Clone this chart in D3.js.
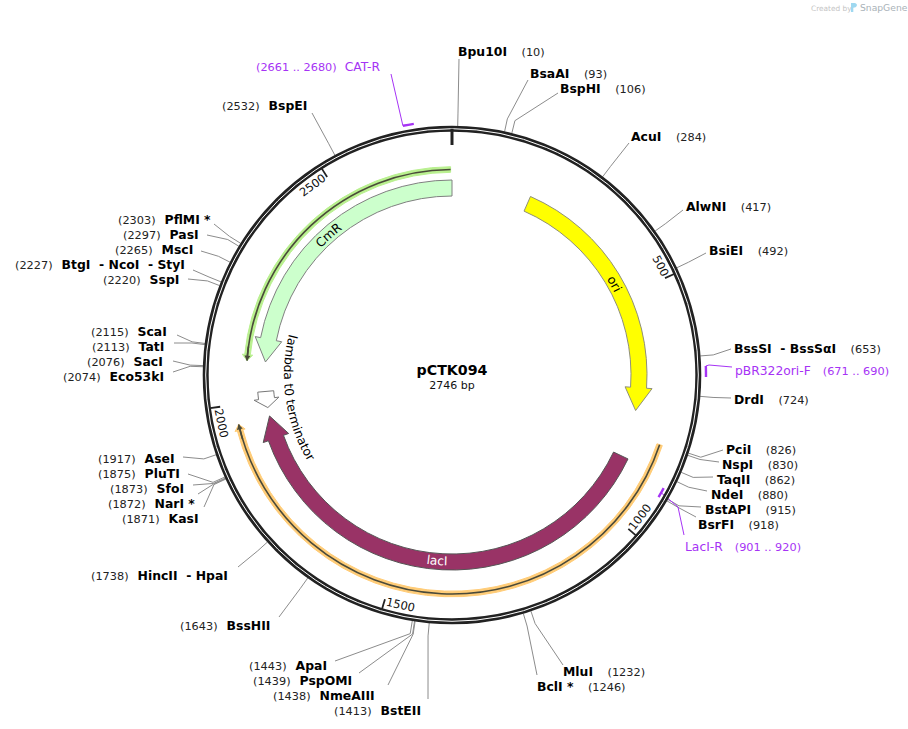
<!DOCTYPE html>
<html>
<head>
<meta charset="utf-8">
<script src="https://d3js.org/d3.v7.min.js"></script>
<style>
  html, body { margin: 0; padding: 0; background: #fff; }
  text { font-family: "DejaVu Sans", sans-serif; white-space: pre; }
</style>
</head>
<body>
<script>
var plasmidName = "pCTK094";
var plasmidLength = 2746;

// restriction sites, going round the map
var siteNames = ["Bpu10I", "BsaAI", "BspHI", "AcuI", "AlwNI", "BsiEI", "BssSI  - BssS\u03b1I", "DrdI",
  "PciI", "NspI", "TaqII", "NdeI", "BstAPI", "BsrFI", "MluI", "BclI *",
  "BstEII", "NmeAIII", "PspOMI", "ApaI", "BssHII", "HincII  - HpaI",
  "KasI", "NarI *", "SfoI", "PluTI", "AseI",
  "Eco53kI", "SacI", "TatI", "ScaI",
  "SspI", "BtgI  - NcoI  - StyI", "MscI", "PasI", "PflMI *", "BspEI"];
var sitePositions = [10, 93, 106, 284, 417, 492, 653, 724,
  826, 830, 862, 880, 915, 918, 1232, 1246,
  1413, 1438, 1439, 1443, 1643, 1738,
  1871, 1872, 1873, 1875, 1917,
  2074, 2076, 2113, 2115,
  2220, 2227, 2265, 2297, 2303, 2532];

// primers
var primerNames = ["pBR322ori-F", "LacI-R", "CAT-R"];
var primerStarts = [671, 901, 2661];
var primerEnds = [690, 920, 2680];

// features, start is the tail of the arrow and end is the tip
var featureNames = ["ori", "CmR", "lacI", "lambda t0 terminator"];
var featureStarts = [181, 2746, 881, 2021];
var featureEnds = [770, 2090, 1963, 1983];

var orfStarts = [2743, 828];
var orfEnds = [2090, 1960];

var tickValues = [500, 1000, 1500, 2000, 2500];

// where the labels went on the page
var siteLabelX = [458, 530, 560, 631, 686, 709, 734, 734,
  726, 722, 717, 711, 705, 698, 563, 537,
  334, 273, 253, 249, 180, 91,
  122, 108, 110, 98, 98,
  63, 87, 92, 91,
  103, 15, 115, 123, 118, 222];
var siteLabelY = [52, 74, 89, 137, 207, 251, 349, 400,
  450, 465, 480, 495, 510, 525, 672, 687,
  711, 696, 681, 666, 626, 576,
  519, 504, 489, 474, 459,
  377, 362, 347, 332,
  280, 265, 250, 235, 220, 106];
var leaderEndX = [459, 528, 558, 629, 683, 706, 731, 731,
  723, 719, 713, 707, 701, 696, 563, 537,
  428, 388, 359, 335, 279, 238,
  204, 198, 193, 188, 183,
  173, 173, 174, 177,
  188, 193, 201, 207, 214, 312];
var leaderEndY = [59, 80, 93, 143, 210, 253, 349, 398,
  450, 462, 477, 491, 507, 517, 665, 675,
  699, 685, 673, 661, 617, 567,
  507, 494, 485, 474, 457,
  372, 361, 343, 335,
  279, 270, 251, 235, 224, 113];

var width = 908, height = 729;
var cx = 452, cy = 375;
var ringR = 246.3;

var svg = d3.select("body").append("svg")
  .attr("width", width)
  .attr("height", height)
  .style("display", "block");

var g = svg.append("g").attr("transform", "translate(" + cx + "," + cy + ")");
var defs = svg.append("defs");

// bp -> angle, clockwise from the top
var angle = d3.scaleLinear().domain([0, plasmidLength]).range([0, 2 * Math.PI]);

function polar(bp, r) {
  return d3.pointRadial(angle(bp), r);
}

// arrow shape along the circle
function arrowPath(startBp, endBp, rIn, rOut, headLen, headOver) {
  var a0 = angle(startBp) - Math.PI / 2;
  var a1 = angle(endBp) - Math.PI / 2;
  var ccw = a1 < a0;
  var rMid = (rIn + rOut) / 2;
  var aHead = a1 + (ccw ? 1 : -1) * headLen / rMid;
  var p = d3.path();
  p.arc(0, 0, rOut, a0, aHead, ccw);
  p.lineTo((rOut + headOver) * Math.cos(aHead), (rOut + headOver) * Math.sin(aHead));
  p.lineTo(rMid * Math.cos(a1), rMid * Math.sin(a1));
  p.lineTo((rIn - headOver) * Math.cos(aHead), (rIn - headOver) * Math.sin(aHead));
  p.lineTo(rIn * Math.cos(aHead), rIn * Math.sin(aHead));
  p.arc(0, 0, rIn, aHead, a0, !ccw);
  p.closePath();
  return p.toString();
}

// thin open reading frame line
function orfPath(startBp, endBp, r) {
  var a0 = angle(startBp) - Math.PI / 2;
  var a1 = angle(endBp) - Math.PI / 2;
  var p = d3.path();
  p.arc(0, 0, r, a0, a1, a1 < a0);
  return p.toString();
}

function arcGuide(id, midBp, span, r, ccw) {
  var a = angle(midBp) - Math.PI / 2;
  var p = d3.path();
  if (ccw) p.arc(0, 0, r, a + span, a - span, true);
  else p.arc(0, 0, r, a - span, a + span, false);
  defs.append("path").attr("id", id).attr("d", p.toString());
}

// orf lines first
var orfColors = ["#b9f08f", "#ffcc77"];
var orfRadius = [205.5, 219];
orfStarts.forEach(function(s, i) {
  var shaftStart = orfEnds[i] + (orfEnds[i] < s ? 30 : -30);
  g.append("path").attr("d", arrowPath(s, orfEnds[i], orfRadius[i] - 2.8, orfRadius[i] + 2.8, 6, 2.4))
    .attr("fill", orfColors[i]).attr("stroke", orfColors[i]).attr("stroke-width", 1);
  g.append("path").attr("d", orfPath(s, orfEnds[i], orfRadius[i]))
    .attr("fill", "none").attr("stroke", "#4a4a3a").attr("stroke-width", 1.6);
  g.append("path").attr("d", arrowPath(shaftStart, orfEnds[i], orfRadius[i] - 0.8, orfRadius[i] + 0.8, 5, 2.2))
    .attr("fill", "#4a4a3a");
});

// feature arrows
var featureFill = ["#ffff00", "#ccffcc", "#993366", "#ffffff"];
var featureStroke = ["#8f8f7a", "#808080", "#555555", "#777777"];
featureStarts.forEach(function(s, i) {
  g.append("path")
    .attr("d", arrowPath(s, featureEnds[i], 179, 195, i == 3 ? 9 : 23, i == 3 ? 4.5 : 5.5))
    .attr("fill", featureFill[i])
    .attr("stroke", featureStroke[i])
    .attr("stroke-width", 1);
});

// feature labels
arcGuide("lab-ori", 463, 0.3, 182, false);
arcGuide("lab-cmr", 2430, 0.3, 182.5, false);
arcGuide("lab-laci", 1408, 0.3, 190.5, true);
arcGuide("lab-term", 1995, 0.6, 168, true);
var labelGuides = ["lab-ori", "lab-cmr", "lab-laci", "lab-term"];
var labelColors = ["#000", "#000", "#fff", "#000"];
featureNames.forEach(function(name, i) {
  g.append("text")
    .attr("font-size", 12.3)
    .attr("fill", labelColors[i])
    .append("textPath")
    .attr("href", "#" + labelGuides[i])
    .attr("startOffset", "50%")
    .attr("text-anchor", "middle")
    .text(name);
});

// leader lines
var siteIdx = d3.range(siteNames.length);
g.selectAll(".leader").data(siteIdx).enter().append("path")
  .attr("class", "leader")
  .attr("fill", "none")
  .attr("stroke", "#8c8c8c")
  .attr("stroke-width", 1)
  .attr("d", function(i) {
    var a = polar(sitePositions[i], 249);
    var b = polar(sitePositions[i], 262);
    return d3.line()([a, b, [leaderEndX[i] - cx, leaderEndY[i] - cy]]);
  });

// primer marks: forward sits outside the ring, reverse inside
var primerColor = "#a633f5";
var primerRadius = [254, 240, 254];
var primerLeaders = [[[709, 365], [732, 367]], [[678, 507], [684, 535]], [[391, 74]]];
primerNames.forEach(function(name, i) {
  var mid = (primerStarts[i] + primerEnds[i]) / 2;
  g.append("path")
    .attr("d", d3.arc()({
      innerRadius: primerRadius[i] - 1.2,
      outerRadius: primerRadius[i] + 1.2,
      startAngle: angle(primerStarts[i]),
      endAngle: angle(primerEnds[i])
    }))
    .attr("fill", primerColor);
  var pts = [polar(i == 1 ? mid : primerStarts[i], primerRadius[i])]
    .concat(primerLeaders[i].map(function(p) { return [p[0] - cx, p[1] - cy]; }));
  g.append("path")
    .attr("d", d3.line()(pts))
    .attr("fill", "none")
    .attr("stroke", primerColor)
    .attr("stroke-width", 1);
});

// ring
g.append("circle").attr("r", ringR).attr("fill", "none").attr("stroke", "#222222").attr("stroke-width", 6);
g.append("circle").attr("r", ringR).attr("fill", "none").attr("stroke", "#ffffff").attr("stroke-width", 1);

// ticks
g.append("line")
  .attr("x1", 0).attr("x2", 0)
  .attr("y1", -ringR).attr("y2", -230)
  .attr("stroke", "#222222").attr("stroke-width", 3);

g.selectAll(".tick").data(tickValues).enter().append("line")
  .attr("class", "tick")
  .attr("x1", function(d) { return polar(d, 244)[0]; })
  .attr("y1", function(d) { return polar(d, 244)[1]; })
  .attr("x2", function(d) { return polar(d, 234)[0]; })
  .attr("y2", function(d) { return polar(d, 234)[1]; })
  .attr("stroke", "#222222").attr("stroke-width", 1.8);

g.selectAll(".ticklabel").data(tickValues).enter().append("text")
  .attr("class", "ticklabel")
  .attr("font-size", 11.5)
  .attr("fill", "#111")
  .attr("text-anchor", "middle")
  .attr("dy", "0.35em")
  .attr("transform", function(d) {
    var halfWidth = String(d).length * 3.65;
    var a = angle(d) - (halfWidth + 2) / 235;
    var p = d3.pointRadial(a, 235.5);
    var deg = a * 180 / Math.PI;
    var rot = (deg > 90 && deg < 270) ? deg - 180 : deg;
    return "translate(" + p[0] + "," + p[1] + ") rotate(" + rot + ")";
  })
  .text(function(d) { return d; });

// site labels: right half is name then position, left half position then name
var labels = svg.selectAll(".sitelabel").data(siteIdx).enter().append("text")
  .attr("class", "sitelabel")
  .attr("x", function(i) { return siteLabelX[i]; })
  .attr("y", function(i) { return siteLabelY[i] + 4; })
  .attr("font-size", 12.4);

labels.each(function(i) {
  var t = d3.select(this);
  var name = siteNames[i];
  var pos = "(" + sitePositions[i] + ")";
  if (sitePositions[i] < plasmidLength / 2) {
    t.append("tspan").attr("font-weight", "bold").attr("fill", "#000").text(name);
    t.append("tspan").attr("dx", 14.5).attr("font-size", 11.3).attr("fill", "#222").text(pos);
  } else {
    t.append("tspan").attr("font-size", 11.3).attr("fill", "#222").text(pos);
    t.append("tspan").attr("dx", 9).attr("font-weight", "bold").attr("fill", "#000").text(name);
  }
});

// primer labels
var primerLabelX = [735, 685, 256];
var primerLabelY = [371, 547, 67];
primerNames.forEach(function(name, i) {
  var range = "(" + primerStarts[i] + " .. " + primerEnds[i] + ")";
  var t = svg.append("text")
    .attr("x", primerLabelX[i]).attr("y", primerLabelY[i] + 4)
    .attr("font-size", 12.3).attr("fill", primerColor);
  if (i < 2) {
    t.append("tspan").text(name);
    t.append("tspan").attr("dx", 12).attr("font-size", 11.3).text(range);
  } else {
    t.append("tspan").attr("font-size", 11.3).text(range);
    t.append("tspan").attr("dx", 8).text(name);
  }
});

// centre title
g.append("text").attr("text-anchor", "middle").attr("y", 0)
  .attr("font-size", 14.2).attr("font-weight", "bold").text(plasmidName);
g.append("text").attr("text-anchor", "middle").attr("y", 14)
  .attr("font-size", 11).attr("fill", "#111").text(plasmidLength + " bp");

// watermark
svg.append("text").attr("x", 811).attr("y", 10.5).attr("font-size", 7.4)
  .attr("fill", "#c4c4c4").text("Created by");
svg.append("path").attr("d", "M851 3h3.5c3 0 3.5 4 0 4.5l-1.2 .3v4.2h-2.3z").attr("fill", "#9fd8f0");
svg.append("text").attr("x", 860).attr("y", 11).attr("font-size", 9.2)
  .attr("fill", "#a9b2b8").text("SnapGene");
</script>
</body>
</html>
